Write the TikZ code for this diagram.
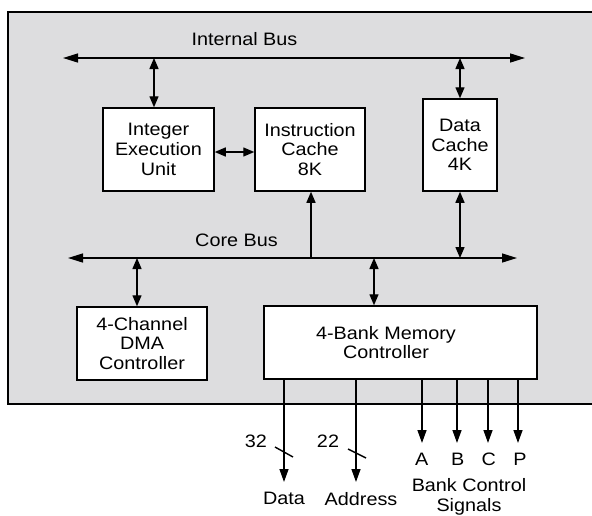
\documentclass[tikz,border=0pt]{standalone}
\usepackage{fontspec}
\setmainfont{Liberation Sans}[FakeStretch=1.1]
\usetikzlibrary{arrows.meta,calc}
\definecolor{panel}{RGB}{221,221,223}
\newcommand\blocktext{\fontsize{18}{19.8}\selectfont}

\tikzset{
  unit/.style={draw, fill=white, line width=1.5pt, align=center, inner sep=0pt, font=\blocktext},
  tag/.style={font=\blocktext, align=center, inner sep=0pt},
  wire/.style={line width=1.4pt},
  bus/.style={wire, {Triangle[length=15pt,width=9pt]}-{Triangle[length=15pt,width=9pt]}},
  link/.style={wire, {Triangle[length=11pt,width=9pt]}-{Triangle[length=11pt,width=9pt]}},
  feed/.style={wire, -{Triangle[length=11pt,width=9pt]}},
  outsig/.style={wire, -{Triangle[length=13pt,width=9pt]}},
}

\begin{document}
\begin{tikzpicture}[x=1pt, y=-1pt]
\useasboundingbox (0,0) rectangle (592,515);

% chip outline
\fill[panel] (8,12) rectangle (600,404);
\draw[line width=1.5pt] (600,12) -- (8,12) -- (8,404) -- (600,404);

% functional blocks
\node[unit, minimum width=111, minimum height=83] (ieu) at (158.5,149.5) {Integer\\Execution\\Unit};
\node[unit, minimum width=110, minimum height=83] (ic) at (310,149.5) {Instruction\\Cache\\8K};
\node[unit, minimum width=74, minimum height=92] (dc) at (460,145) {Data\\Cache\\4K};
\node[unit, minimum width=130, minimum height=73] (dma) at (142,343.5) {4-Channel\\DMA\\Controller};
\node[unit, minimum width=273, minimum height=73] (mc) at (400.5,342.5) {};
\node[tag] (mclabel) at (386,342.5) {4-Bank Memory\\Controller};

% buses
\coordinate (ibL) at (63,58);
\coordinate (ibR) at (525,58);
\coordinate (cbL) at (68,258);
\coordinate (cbR) at (517,258);
\draw[bus] (ibL) -- (ibR);
\draw[bus] (cbL) -- (cbR);
\node[tag] (iblabel) at (244.5,39) {Internal Bus};
\node[tag] (cblabel) at (236.5,240) {Core Bus};

% block connections
\draw[link] ([xshift=-4.5pt]ieu.north) -- ([xshift=-4.5pt]ieu.north |- ibL);
\draw[link] ([yshift=-2.5pt]ieu.east) -- ([yshift=-2.5pt]ic.west);
\draw[link] (dc.north) -- (dc.north |- ibL);
\draw[link] (dc.south) -- (dc.south |- cbL);
\draw[feed] ([xshift=1pt]ic.south |- cbL) -- ([xshift=1pt]ic.south);
\draw[link] ([xshift=-5pt]dma.north) -- ([xshift=-5pt]dma.north |- cbL);
\draw[link] ([xshift=-26.5pt]mc.north) -- ([xshift=-26.5pt]mc.north |- cbL);

% external signals
\coordinate (dataTip) at (284,482);
\coordinate (addrTip) at (356,482);
\coordinate (aTip) at (422,443);
\coordinate (bTip) at (457,443);
\coordinate (cTip) at (488,443);
\coordinate (pTip) at (518,443);
\foreach \t in {dataTip,addrTip,aTip,bTip,cTip,pTip}
  \draw[outsig] (mc.south -| \t) -- (\t);

% bus width marks
\coordinate (dataCut) at (284,452);
\coordinate (addrCut) at (357,453.5);
\draw[wire] ($(dataCut)+(-9,-5)$) -- ($(dataCut)+(9,5)$);
\draw[wire] ($(addrCut)+(-9,-4.5)$) -- ($(addrCut)+(9,4.5)$);
\node[tag] (w32) at (256,441.5) {32};
\node[tag] (w22) at (328,441.5) {22};

% signal names
\node[tag, anchor=north] (datalabel) at (284,492) {Data};
\node[tag, anchor=north] (addrlabel) at (361,492) {Address};
\node[tag] (alabel) at (421.8,459) {A};
\node[tag] (blabel) at (457.8,459) {B};
\node[tag] (clabel) at (488.7,459) {C};
\node[tag] (plabel) at (520,459) {P};
\node[tag, anchor=north] (banklabel) at (469,478) {Bank Control\\Signals};
\end{tikzpicture}
\end{document}
